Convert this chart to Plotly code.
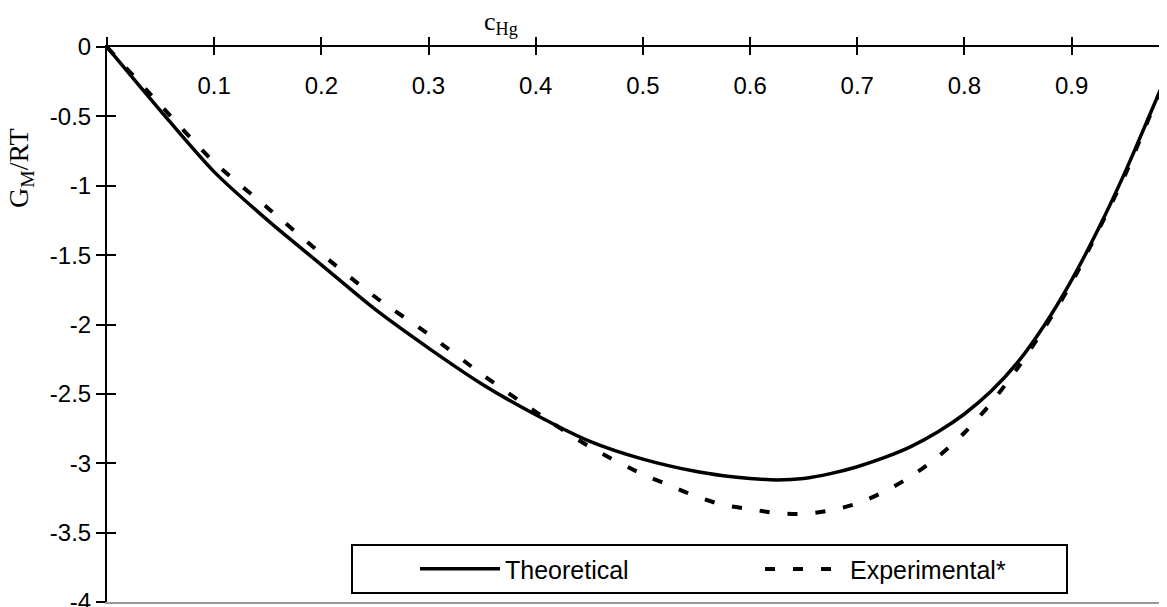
import plotly.graph_objects as go

# ---- data ----
x_theo = [0, 0.05, 0.1, 0.15, 0.2, 0.25, 0.3, 0.35, 0.4, 0.45, 0.5, 0.55, 0.575, 0.6,
          0.625, 0.65, 0.675, 0.7, 0.725, 0.75, 0.775, 0.8, 0.825, 0.85, 0.875, 0.9,
          0.925, 0.95, 0.975, 1.0]
y_theo = [0, -0.46, -0.90, -1.25, -1.57, -1.89, -2.17, -2.43, -2.65, -2.84, -2.97, -3.06,
          -3.09, -3.11, -3.12, -3.11, -3.075, -3.025, -2.96, -2.88, -2.775, -2.645, -2.48,
          -2.27, -2.00, -1.68, -1.31, -0.90, -0.45, 0]

x_exp = [0, 0.05, 0.1, 0.15, 0.2, 0.25, 0.3, 0.35, 0.4, 0.45, 0.5, 0.525, 0.55, 0.575,
         0.6, 0.625, 0.65, 0.675, 0.7, 0.725, 0.75, 0.775, 0.8, 0.825, 0.85, 0.875, 0.9,
         0.925, 0.95, 0.975, 1.0]
y_exp = [0, -0.42, -0.83, -1.16, -1.49, -1.80, -2.07, -2.36, -2.63, -2.88, -3.08, -3.16,
         -3.24, -3.30, -3.33, -3.36, -3.365, -3.34, -3.29, -3.205, -3.095, -2.955, -2.78,
         -2.565, -2.31, -2.02, -1.70, -1.32, -0.92, -0.46, 0]

x_ticks = [0, 0.1, 0.2, 0.3, 0.4, 0.5, 0.6, 0.7, 0.8, 0.9]
x_label_vals = [0.1, 0.2, 0.3, 0.4, 0.5, 0.6, 0.7, 0.8, 0.9]
x_label_text = ["0.1", "0.2", "0.3", "0.4", "0.5", "0.6", "0.7", "0.8", "0.9"]
y_ticks = [0, -0.5, -1, -1.5, -2, -2.5, -3, -3.5, -4]
y_ticktext = ["0", "-0.5", "-1", "-1.5", "-2", "-2.5", "-3", "-3.5", "-4"]

series_names = ["Theoretical", "Experimental*"]

X_RANGE = [0, 0.989]
Y_RANGE = [-4, 0]
SANS = "Liberation Sans, Arial, sans-serif"
SERIF = "Liberation Serif, Times New Roman, serif"
FS = 24
FS_LEG = 25

fig = go.Figure()
fig.add_trace(go.Scatter(x=x_theo, y=y_theo, mode="lines", name=series_names[0],
                         legend="legend",
                         line=dict(color="black", width=3.5, shape="spline", smoothing=0.8)))
fig.add_trace(go.Scatter(x=x_exp, y=y_exp, mode="lines", name=series_names[1],
                         legend="legend2",
                         line=dict(color="black", width=4, dash="10px,18px",
                                   shape="spline", smoothing=0.8)))

common_x = dict(range=X_RANGE, showgrid=False, zeroline=False, fixedrange=True)
common_y = dict(range=Y_RANGE, showgrid=False, zeroline=False, fixedrange=True)

fig.update_layout(
    width=1159, height=599, autosize=False,
    margin=dict(l=99, r=0, t=39, b=5, autoexpand=False),
    paper_bgcolor="white", plot_bgcolor="white",
    font=dict(family=SANS, size=FS, color="black"),
    showlegend=True,
    legend=dict(orientation="h", x=(351 - 107) / 1060, xanchor="left",
                y=0.1045, yanchor="top",
                bordercolor="black", borderwidth=2, bgcolor="white",
                font=dict(family=SANS, size=FS_LEG, color="black"),
                itemwidth=80, entrywidth=556, indentation=62),
    legend2=dict(orientation="h", x=(767 - 7 - 107) / 1060, xanchor="left",
                 y=0.1045 - 0.004, yanchor="top",
                 borderwidth=0, bgcolor="rgba(0,0,0,0)",
                 font=dict(family=SANS, size=FS_LEG, color="black"),
                 itemwidth=80),
    xaxis=dict(**common_x, side="top", anchor="y", showline=True, linecolor="black",
               linewidth=2, ticks="outside", ticklen=8, tickwidth=2, tickcolor="black",
               tickvals=x_ticks, showticklabels=False, automargin=False),
    xaxis2=dict(**common_x, overlaying="x", side="top", anchor="y", showline=False,
                ticks="inside", ticklen=8, tickwidth=2, tickcolor="black",
                tickvals=x_ticks, showticklabels=False, automargin=False),
    xaxis3=dict(**common_x, overlaying="x", side="bottom", anchor="y", showline=True,
                linecolor="#999999", linewidth=2, ticks="", showticklabels=False,
                automargin=False),
    xaxis4=dict(**common_x, overlaying="x", side="bottom", anchor="free", position=0.96,
                showline=False, ticks="", tickvals=x_label_vals, ticktext=x_label_text,
                tickfont=dict(family=SANS, size=FS, color="black"), automargin=False),
    yaxis=dict(**common_y, showline=True, linecolor="black", linewidth=2,
               ticks="outside", ticklen=9, tickwidth=2, tickcolor="black",
               tickvals=y_ticks, ticktext=y_ticktext, automargin=False,
               ticklabeloverflow="allow",
               tickfont=dict(family=SANS, size=FS, color="black")),
    yaxis2=dict(**common_y, overlaying="y", side="left", anchor="x", showline=False,
                ticks="inside", ticklen=9, tickwidth=2, tickcolor="black",
                tickvals=y_ticks, showticklabels=False, automargin=False),
    annotations=[
        dict(text="G<sub>M</sub>/RT", xref="paper", yref="paper", x=-0.0812, y=0.782,
             xanchor="center", yanchor="middle",
             textangle=-90, showarrow=False, font=dict(family=SERIF, size=28, color="black")),
        dict(text="c<sub>Hg</sub>", xref="paper", yref="paper", x=0.3717, y=1.043,
             xanchor="center", yanchor="middle",
             showarrow=False, font=dict(family=SERIF, size=26, color="black")),
    ],
)

# invisible helper traces so the overlay axes are drawn
for xa in ["x2", "x3", "x4"]:
    fig.add_trace(go.Scatter(x=[X_RANGE[0]], y=[Y_RANGE[0]], xaxis=xa,
                             yaxis="y2" if xa == "x2" else "y", mode="lines",
                             showlegend=False, hoverinfo="skip", line=dict(width=0)))

fig.write_html("out.html")
